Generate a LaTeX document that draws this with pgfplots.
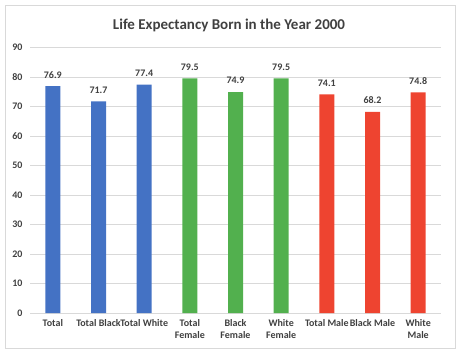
\documentclass[border=0pt]{standalone}
\usepackage{pgfplots}
\pgfplotsset{compat=1.18}
\usepackage{fontspec}
\setmainfont{Carlito}
\definecolor{cblue}{HTML}{4472C4}
\definecolor{cgreen}{HTML}{52B04E}
\definecolor{cred}{HTML}{EE4430}
\definecolor{txt}{HTML}{404040}
\definecolor{gridc}{HTML}{D9D9D9}
\begin{document}
\begin{tikzpicture}[x=1pt,y=1pt]
\useasboundingbox (0,0) rectangle (462,354);
\draw[gridc, line width=0.8pt] (5,6) rectangle (455,349);
\node[font=\fontsize{15}{17}\selectfont\bfseries, text=txt] at (229,329) {Life Expectancy Born in the Year 2000};
\begin{axis}[
  at={(30pt,41pt)}, anchor=south west,
  scale only axis, width=411pt, height=265.5pt,
  xmin=-0.5, xmax=8.5, ymin=0, ymax=90,
  ytick={0,10,...,90},
  xtick={0,1,...,8},
  xticklabels={Total, Total Black, Total White, {Total\\Female}, {Black\\Female}, {White\\Female}, Total Male, Black Male, {White\\Male}},
  xticklabel style={align=center, font=\fontsize{10}{11.5}\selectfont\bfseries, text=txt, yshift=-3pt},
  yticklabel style={font=\fontsize{10}{11.5}\selectfont\bfseries, text=txt, xshift=-4pt},
  /pgf/number format/assume math mode=true,
  axis line style={draw=none},
  major tick length=0pt,
  xmajorgrids=false,
  ymajorgrids, grid style={gridc, line width=0.8pt},
  ybar, bar width=15pt,
  nodes near coords,
  every node near coord/.append style={font=\fontsize{10}{11.5}\selectfont\bfseries, text=txt, anchor=south, yshift=4.5pt},
  nodes near coords style={/pgf/number format/.cd, fixed, fixed zerofill, precision=1, assume math mode=true},
  clip=false,
]
\addplot[fill=cblue, draw=none, bar shift=0pt] coordinates {(0,76.9) (1,71.7) (2,77.4)};
\addplot[fill=cgreen, draw=none, bar shift=0pt] coordinates {(3,79.5) (4,74.9) (5,79.5)};
\addplot[fill=cred, draw=none, bar shift=0pt] coordinates {(6,74.1) (7,68.2) (8,74.8)};
\end{axis}
\end{tikzpicture}
\end{document}
